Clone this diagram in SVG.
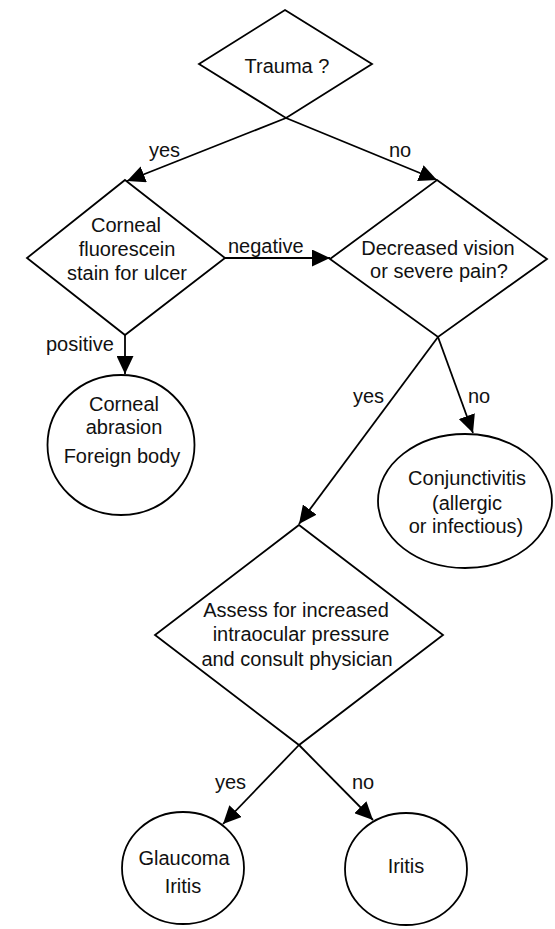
<svg xmlns="http://www.w3.org/2000/svg" width="555" height="929" viewBox="0 0 555 929">
<style>
.shape{fill:#fff;stroke:#000;stroke-width:1.8}
.conn{fill:none;stroke:#000;stroke-width:1.8}
text{font-family:"Liberation Sans",Arial,sans-serif;font-size:20px;fill:#111}
.c{text-anchor:middle}
</style>
<defs>
<marker id="arr" markerUnits="userSpaceOnUse" markerWidth="18" markerHeight="17" refX="18" refY="8.5" orient="auto">
<path d="M0,0 L18,8.5 L0,17 z" fill="#000"/>
</marker>
</defs>
<rect width="555" height="929" fill="#fff"/>
<g id="trauma">
<polygon class="shape" points="285,10 372,64 286,118 199,64"/>
<text class="c" x="287" y="73">Trauma ?</text>
</g>
<g id="stain">
<polygon class="shape" points="125,180 225,258 125,335 27,258"/>
<text class="c" x="126" y="232">Corneal</text>
<text class="c" x="127" y="256">fluorescein</text>
<text class="c" x="127" y="280">stain for ulcer</text>
</g>
<g id="decreased">
<polygon class="shape" points="437,180 547,259 438,337 330,259"/>
<text class="c" x="438" y="255">Decreased vision</text>
<text class="c" x="439" y="278">or severe pain?</text>
</g>
<g id="abrasion">
<ellipse class="shape" cx="121" cy="445" rx="73.5" ry="70"/>
<text class="c" x="124" y="411">Corneal</text>
<text class="c" x="124" y="434">abrasion</text>
<text class="c" x="122" y="463">Foreign body</text>
</g>
<g id="conjunctivitis">
<ellipse class="shape" cx="465" cy="501" rx="87" ry="67"/>
<text class="c" x="467" y="485">Conjunctivitis</text>
<text class="c" x="467" y="510">(allergic</text>
<text class="c" x="466" y="533">or infectious)</text>
</g>
<g id="assess">
<polygon class="shape" points="299,525 443,635 299,745 155,635"/>
<text class="c" x="296" y="617">Assess for increased</text>
<text class="c" x="301" y="641">intraocular pressure</text>
<text class="c" x="297" y="666">and consult physician</text>
</g>
<g id="glaucoma">
<ellipse class="shape" cx="183" cy="868" rx="61" ry="56"/>
<text class="c" x="184" y="865">Glaucoma</text>
<text class="c" x="183" y="893">Iritis</text>
</g>
<g id="iritis">
<ellipse class="shape" cx="406" cy="869" rx="61" ry="56"/>
<text class="c" x="406" y="873">Iritis</text>
</g>
<g id="connectors">
<path class="conn" d="M286,118 L127,181" marker-end="url(#arr)"/>
<path class="conn" d="M286,118 L437,180" marker-end="url(#arr)"/>
<path class="conn" d="M225,258 L330,258" marker-end="url(#arr)"/>
<path class="conn" d="M125,335 L125,374" marker-end="url(#arr)"/>
<path class="conn" d="M438,337 L299,524" marker-end="url(#arr)"/>
<path class="conn" d="M438,337 L473,433" marker-end="url(#arr)"/>
<path class="conn" d="M299,745 L223,824" marker-end="url(#arr)"/>
<path class="conn" d="M299,745 L373,820" marker-end="url(#arr)"/>
<text x="149" y="157">yes</text>
<text x="389" y="157">no</text>
<text x="228" y="253">negative</text>
<text x="46" y="351">positive</text>
<text x="353" y="403">yes</text>
<text x="468" y="403">no</text>
<text x="215" y="789">yes</text>
<text x="352" y="789">no</text>
</g>
</svg>
